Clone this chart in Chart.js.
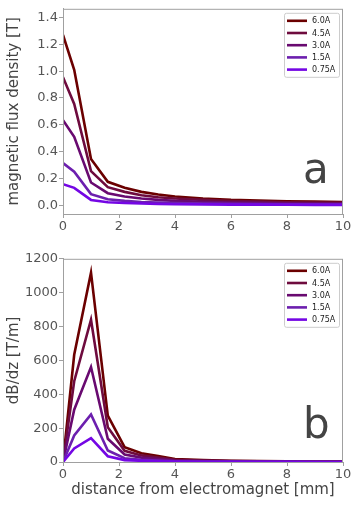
<!DOCTYPE html>
<html>
<head>
<title>Electromagnet field</title>
<style>
  body { margin: 0; background: #fff; }
  #top { position: absolute; left: 0; top: 0; }
  #bottom { position: absolute; left: 0; top: 250px; }
</style>
</head>
<body>
<div id="top"><canvas id="fluxChart" width="359" height="250"></canvas></div>
<div id="bottom"><canvas id="gradChart" width="359" height="256"></canvas></div>

<script src="https://cdn.jsdelivr.net/npm/chart.js@4/dist/chart.umd.min.js"></script>
<script>
    // distance from electromagnet [mm]
    const distance = [0, 0.4, 1.0, 1.6, 2.2, 2.8, 3.4, 4.0, 5, 6, 7, 8, 9, 10];
    const currents = ["6.0A", "4.5A", "3.0A", "1.5A", "0.75A"];
    const colors = ["#6b0000", "#6e0b3e", "#690a70", "#6c1fae", "#7406e4"];

    // magnetic flux density [T]
    const flux60 = [1.27, 1.01, 0.345, 0.175, 0.13, 0.10, 0.08, 0.065, 0.05, 0.04, 0.035, 0.03, 0.027, 0.025];
    const flux45 = [0.955, 0.755, 0.255, 0.135, 0.10, 0.075, 0.06, 0.05, 0.04, 0.032, 0.027, 0.023, 0.02, 0.018];
    const flux30 = [0.635, 0.51, 0.17, 0.09, 0.065, 0.05, 0.04, 0.033, 0.026, 0.021, 0.018, 0.015, 0.013, 0.012];
    const flux15 = [0.315, 0.25, 0.083, 0.045, 0.033, 0.025, 0.02, 0.017, 0.013, 0.011, 0.009, 0.008, 0.007, 0.006];
    const flux075 = [0.157, 0.13, 0.04, 0.023, 0.017, 0.013, 0.01, 0.008, 0.007, 0.005, 0.005, 0.004, 0.003, 0.003];

    // dB/dz [T/m]
    const grad60 = [0, 633, 1118, 274, 88, 52, 35, 18, 12, 7, 5, 4, 3, 2];
    const grad45 = [0, 477, 840, 205, 66, 39, 26, 13, 9, 5, 4, 3, 2, 2];
    const grad30 = [0, 309, 561, 137, 44, 26, 17, 9, 6, 4, 3, 2, 1, 1];
    const grad15 = [0, 157, 281, 68, 22, 13, 9, 4, 3, 2, 1, 1, 1, 0];
    const grad075 = [0, 80, 141, 34, 11, 7, 4, 2, 1.5, 1, 0.5, 0.5, 0.3, 0.2];

    const xTicks = [0, 2, 4, 6, 8, 10];
    const fluxTicks = [0, 0.2, 0.4, 0.6, 0.8, 1.0, 1.2, 1.4];
    const gradTicks = [0, 200, 400, 600, 800, 1000, 1200];

    const fontFam = "'DejaVu Sans', sans-serif";
    const tickCol = "#555";
    const frameCol = "#a0a0a0";

    function makeSets(series) {
        return series.map((ys, i) => ({
            label: currents[i],
            data: distance.map((x, j) => ({ x: x, y: ys[j] })),
            borderColor: colors[i],
            backgroundColor: colors[i],
            borderWidth: 2.6,
            pointRadius: 0,
            tension: 0,
            order: series.length - i
        }));
    }

    // frame, inner legend and panel letter
    const decorPlugin = {
        id: "decor",
        afterDatasetsDraw(chart, args, opts) {
            const c = chart.ctx;
            const a = chart.chartArea;
            c.save();
            c.strokeStyle = frameCol;
            c.lineWidth = 1;
            c.strokeRect(a.left + 0.5, a.top + 0.5, a.right - a.left - 1, a.bottom - a.top);

            // legend box
            const bx = a.right - 59, by = a.top + 4, bw = 55, bh = 64;
            c.fillStyle = "rgba(255,255,255,0.85)";
            c.strokeStyle = "#cccccc";
            c.beginPath();
            c.roundRect(bx + 0.5, by + 0.5, bw, bh, 2);
            c.fill();
            c.stroke();
            c.font = "8px " + fontFam;
            c.textBaseline = "middle";
            chart.data.datasets.forEach((ds, i) => {
                const yy = by + 8 + i * 12.2;
                c.strokeStyle = ds.borderColor;
                c.lineWidth = 2.6;
                c.beginPath();
                c.moveTo(bx + 3, yy);
                c.lineTo(bx + 23, yy);
                c.stroke();
                c.fillStyle = "#222";
                c.fillText(ds.label, bx + 28, yy + 0.5);
            });

            // panel letter
            c.fillStyle = "#444";
            c.font = "42px " + fontFam;
            c.textBaseline = "alphabetic";
            c.fillText(opts.text, opts.x, opts.y);
            c.restore();
        }
    };

    function axes(yMin, yMax, yTicks, yTitle, fmt, xHeight, showXTitle) {
        return {
            x: {
                type: "linear",
                min: 0,
                max: 10,
                afterBuildTicks: s => { s.ticks = xTicks.map(v => ({ value: v })); },
                afterFit: s => { s.height = xHeight; },
                grid: { drawOnChartArea: false, tickLength: 4, color: frameCol },
                border: { color: frameCol },
                ticks: { color: tickCol, padding: 1, maxRotation: 0, font: { family: fontFam, size: 13 } },
                title: {
                    display: showXTitle,
                    text: "distance from electromagnet [mm]",
                    color: "#444",
                    padding: { top: 0, bottom: 7 },
                    font: { family: fontFam, size: 15 }
                }
            },
            y: {
                min: yMin,
                max: yMax,
                afterBuildTicks: s => { s.ticks = yTicks.map(v => ({ value: v })); },
                afterFit: s => { s.width = 63; },
                grid: { drawOnChartArea: false, tickLength: 4, color: frameCol },
                border: { color: frameCol },
                ticks: { color: tickCol, padding: 1, font: { family: fontFam, size: 13 }, callback: fmt },
                title: {
                    display: true,
                    text: yTitle,
                    color: "#444",
                    padding: { top: 5, bottom: 0 },
                    font: { family: fontFam, size: 15 }
                }
            }
        };
    }

    new Chart(document.getElementById("fluxChart"), {
        type: "line",
        data: { datasets: makeSets([flux60, flux45, flux30, flux15, flux075]) },
        options: {
            responsive: false,
            animation: false,
            layout: { padding: { top: 8, right: 16, left: 0, bottom: 0 } },
            scales: axes(-0.065, 1.465, fluxTicks, "magnetic flux density [T]", v => v.toFixed(1), 36, false),
            plugins: {
                legend: { display: false },
                tooltip: { enabled: false },
                decor: { text: "a", x: 303, y: 183 }
            }
        },
        plugins: [decorPlugin]
    });

    new Chart(document.getElementById("gradChart"), {
        type: "line",
        data: { datasets: makeSets([grad60, grad45, grad30, grad15, grad075]) },
        options: {
            responsive: false,
            animation: false,
            layout: { padding: { top: 5, right: 16, left: 0, bottom: 0 } },
            scales: axes(0, 1200, gradTicks, "dB/dz [T/m]", v => String(v), 44, true),
            plugins: {
                legend: { display: false },
                tooltip: { enabled: false },
                decor: { text: "b", x: 303, y: 188 }
            }
        },
        plugins: [decorPlugin]
    });
</script>
</body>
</html>
